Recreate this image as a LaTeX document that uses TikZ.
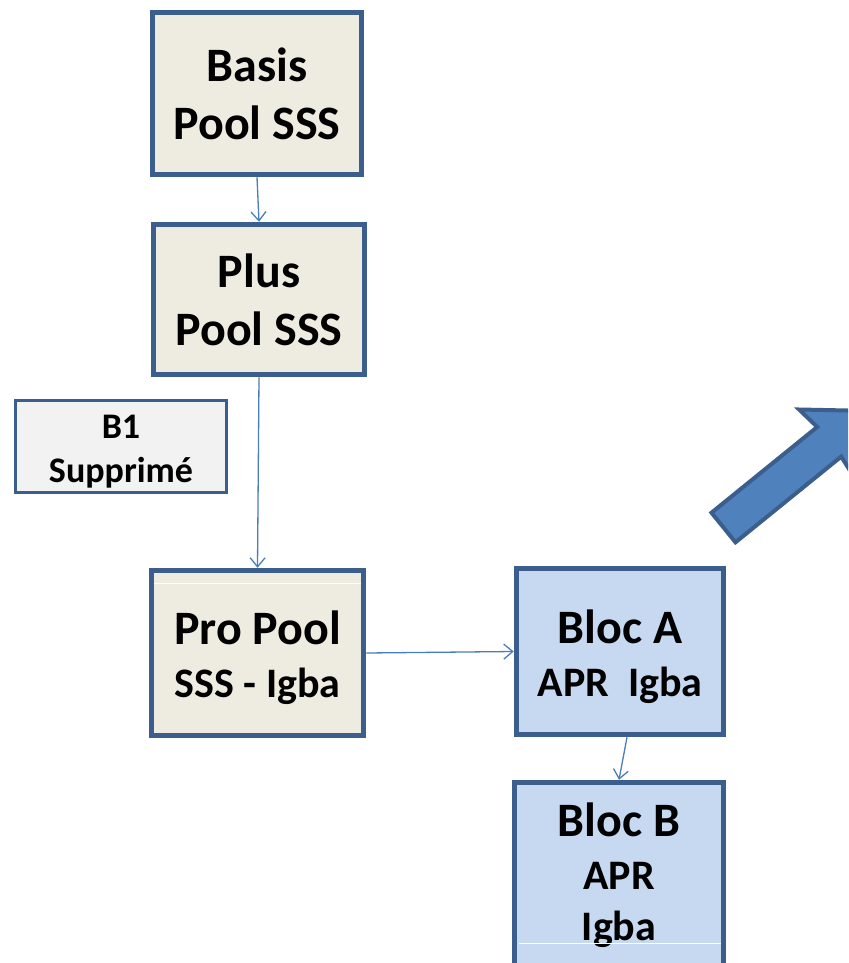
\documentclass[tikz,border=0pt]{standalone}
\usepackage{fontspec}
\setmainfont{Carlito}
\usetikzlibrary{arrows.meta}

\definecolor{edgeblue}{RGB}{59,94,140}
\definecolor{linkblue}{RGB}{74,126,187}
\definecolor{poolfill}{RGB}{238,236,225}
\definecolor{blocfill}{RGB}{198,217,241}
\definecolor{grayfill}{RGB}{242,242,242}
\definecolor{bigfill}{RGB}{79,129,189}

\newcommand{\bigtxt}{\fontsize{48}{58}\selectfont}
\newcommand{\midtxt}{\fontsize{42}{58}\selectfont}
\newcommand{\smalltxt}{\fontsize{36}{44}\selectfont}

\begin{document}
\begin{tikzpicture}[x=1pt,y=-1pt,
    box/.style={draw=edgeblue, line width=5.5pt, rectangle, align=center,
      font=\bfseries\bigtxt, inner sep=0pt},
    poolbox/.style={box, fill=poolfill},
    blocbox/.style={box, fill=blocfill},
    lowtext/.style={label={[align=center, font=\bfseries\bigtxt, yshift=-5pt]center:#1}},
    link/.style={draw=linkblue, line width=1.3pt,
      -{Straight Barb[length=9pt,width=15pt]}}]
  \useasboundingbox (0,0) rectangle (848,963);
  \clip (0,0) rectangle (848,963);

  % Pool boxes
  \node[poolbox, minimum width=209pt, minimum height=162pt] (basis) at (257,93.5)
    {Basis\\Pool SSS};
  \node[poolbox, minimum width=211pt, minimum height=150pt] (plus) at (259,299.5)
    {Plus\\Pool SSS};
  \node[poolbox, minimum width=212pt, minimum height=165pt,
    lowtext={Pro Pool\\[-5pt]{\midtxt SSS - Igba}}] (pro) at (257.5,653) {};

  % Removed box
  \node[box, line width=3.5pt, fill=grayfill, minimum width=211pt, minimum height=92pt,
    label={[align=center, font=\bfseries\smalltxt, yshift=-5pt]center:B1\\Supprim\'e}]
    (b1) at (121,446.5) {};

  % Bloc boxes
  \node[blocbox, minimum width=207pt, minimum height=166pt,
    lowtext={Bloc A\\[-5pt]{\midtxt APR\ \ Igba}}] (bloca) at (620,651.5) {};
  \node[blocbox, minimum width=209pt, minimum height=185pt] (blocb) at (619,875)
    {Bloc B\\[-5pt]{\midtxt APR}\\[-7pt]{\midtxt Igba}};

  % White cut lines
  \draw[white, line width=1pt] (154,583) -- (361,583);
  \draw[white, line width=1pt] (519,943) -- (721,943);

  % Links
  \draw[link] (basis.south) -- (plus.north);
  \draw[link] (plus.south) -- (pro.north);
  \draw[link] (pro.east) -- (bloca.west);
  \draw[link] ([xshift=7pt]bloca.south) -- (blocb.north);

  % Big arrow
  \draw[fill=bigfill, draw=edgeblue, line width=4pt, line join=miter]
    (711.5,512.7) -- (817.2,427.0) -- (799.1,409.5) -- (867.2,410.9)
    -- (854.5,477.9) -- (841.2,456.6) -- (735.5,542.3) -- cycle;
\end{tikzpicture}
\end{document}
